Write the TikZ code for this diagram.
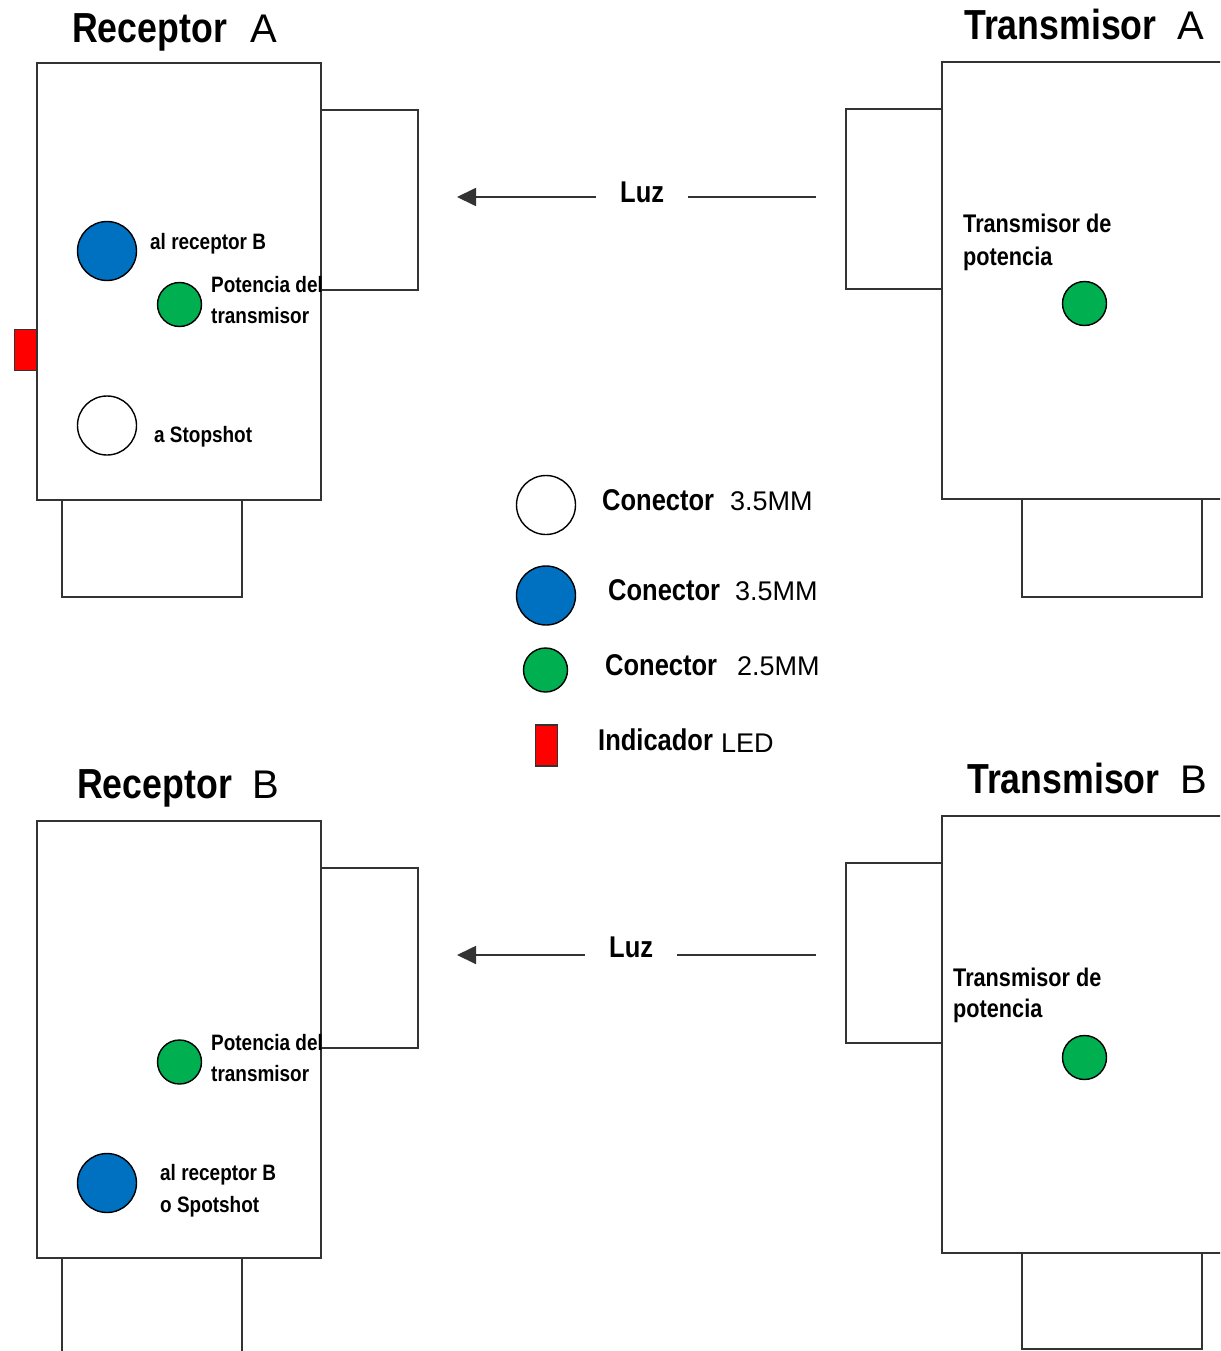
\documentclass[tikz,border=0pt]{standalone}
\usepackage{fontspec}
\setmainfont{Liberation Sans}
\newfontfamily\cnd[FakeStretch=0.85]{Liberation Sans}
\usetikzlibrary{arrows.meta}
\definecolor{jackblue}{HTML}{0070C0}
\definecolor{jackgreen}{HTML}{00B050}
\definecolor{ledred}{HTML}{FF0000}
\tikzset{
  caja/.style={draw=black!80, line width=1.8pt},
  jack/.style={circle, draw=black, line width=1.4pt, inner sep=0pt, minimum size=59pt},
  jackchico/.style={jack, minimum size=44pt, fill=jackgreen},
  led/.style={rectangle, draw=black!80, line width=1.4pt, fill=ledred, inner sep=0pt,
    minimum width=22pt, minimum height=41pt},
  titulo/.style={anchor=base west, inner sep=0pt, font=\cnd\bfseries\fontsize{42}{48}\selectfont},
  letra/.style={anchor=base west, inner sep=0pt, font=\fontsize{40}{48}\selectfont},
  etiq/.style={anchor=base west, inner sep=0pt, font=\cnd\bfseries\fontsize{22.3}{28}\selectfont},
  etiqtx/.style={etiq, font=\cnd\bfseries\fontsize{25.5}{30}\selectfont},
  leyenda/.style={anchor=base west, inner sep=0pt, font=\cnd\bfseries\fontsize{30}{36}\selectfont},
  medida/.style={anchor=base west, inner sep=0pt, font=\fontsize{27}{32}\selectfont},
  luz/.style={anchor=base west, inner ysep=0pt, inner xsep=24pt, font=\cnd\bfseries\fontsize{30}{36}\selectfont},
  linea/.style={draw=black!80, line width=1.8pt},
  flecha/.style={linea, -{Triangle[length=19pt,width=18pt]}}
}
\begin{document}
\begin{tikzpicture}[x=1pt,y=-1pt]
\useasboundingbox (0,0) rectangle (1220,1351);
\clip (0,0) rectangle (1220,1351);

% Receptor A
\node[titulo] (titRA) at (72,43) {Receptor};
\node[letra] (titRAl) at (250,43) {A};
\draw[caja] (37,63) rectangle (321,500);
\draw[caja] (321,110) rectangle (418,290);
\draw[caja] (62,500) rectangle (242,597);
\node[led] (ledRA) at (25.5,350) {};
\node[jack, fill=jackblue] (azulRA) at (107,251) {};
\node[jackchico] (verdeRA) at (179.5,304.5) {};
\node[jack, fill=white] (blancoRA) at (107,425.5) {};
\node[etiq] (recRA) at (150,249) {al receptor B};
\node[etiq] (potRA1) at (211,292) {Potencia del};
\node[etiq] (potRA2) at (211,323) {transmisor};
\node[etiq] (stopRA) at (154,442) {a Stopshot};

% Transmisor A
\node[titulo] (titTA) at (964,40) {Transmisor};
\node[letra] (titTAl) at (1177,40) {A};
\draw[caja] (942,62) rectangle (1240,499);
\draw[caja] (846,109) rectangle (942,289);
\draw[caja] (1022,499) rectangle (1202,597);
\node[etiqtx] (potTA1) at (963,233) {Transmisor de};
\node[etiqtx] (potTA2) at (963,265) {potencia};
\node[jackchico] (verdeTA) at (1084.5,303.5) {};

% luz A
\coordinate (finA) at (457,197);
\coordinate (iniA) at (816,197);
\node[luz] (luzA) at (596,202) {Luz};
\draw[linea] (iniA) -- (iniA -| luzA.east);
\draw[flecha] (iniA -| luzA.west) -- (finA);

% leyenda
\node[jack, fill=white] (leyBlanco) at (546,505) {};
\node[leyenda] (leyT1) at (602,510) {Conector};
\node[medida] (leyM1) at (730,510) {3.5MM};
\node[jack, fill=jackblue] (leyAzul) at (546,595.5) {};
\node[leyenda] (leyT2) at (608,600) {Conector};
\node[medida] (leyM2) at (735,600) {3.5MM};
\node[jackchico] (leyVerde) at (545.5,670) {};
\node[leyenda] (leyT3) at (605,675) {Conector};
\node[medida] (leyM3) at (737,675) {2.5MM};
\node[led] (leyLed) at (546.5,745.5) {};
\node[leyenda] (leyT4) at (598,750) {Indicador};
\node[medida] (leyM4) at (721,752) {LED};

% Receptor B
\node[titulo] (titRB) at (77,798) {Receptor};
\node[letra] (titRBl) at (252,798) {B};
\draw[caja] (37,821) rectangle (321,1258);
\draw[caja] (321,868) rectangle (418,1048);
\draw[caja] (62,1258) rectangle (242,1380);
\node[jackchico] (verdeRB) at (179.5,1062) {};
\node[jack, fill=jackblue] (azulRB) at (107,1183) {};
\node[etiq] (potRB1) at (211,1050) {Potencia del};
\node[etiq] (potRB2) at (211,1081) {transmisor};
\node[etiq] (recRB1) at (160,1180) {al receptor B};
\node[etiq] (recRB2) at (160,1212) {o Spotshot};

% Transmisor B
\node[titulo] (titTB) at (967,793) {Transmisor};
\node[letra] (titTBl) at (1180,793) {B};
\draw[caja] (942,816) rectangle (1240,1253);
\draw[caja] (846,863) rectangle (942,1043);
\draw[caja] (1022,1253) rectangle (1202,1349);
\node[etiqtx] (potTB1) at (953,986) {Transmisor de};
\node[etiqtx] (potTB2) at (953,1017) {potencia};
\node[jackchico] (verdeTB) at (1084.5,1057.5) {};

% luz B
\coordinate (finB) at (457,955);
\coordinate (iniB) at (816,955);
\node[luz] (luzB) at (585,957) {Luz};
\draw[linea] (iniB) -- (iniB -| luzB.east);
\draw[flecha] (iniB -| luzB.west) -- (finB);
\end{tikzpicture}
\end{document}
